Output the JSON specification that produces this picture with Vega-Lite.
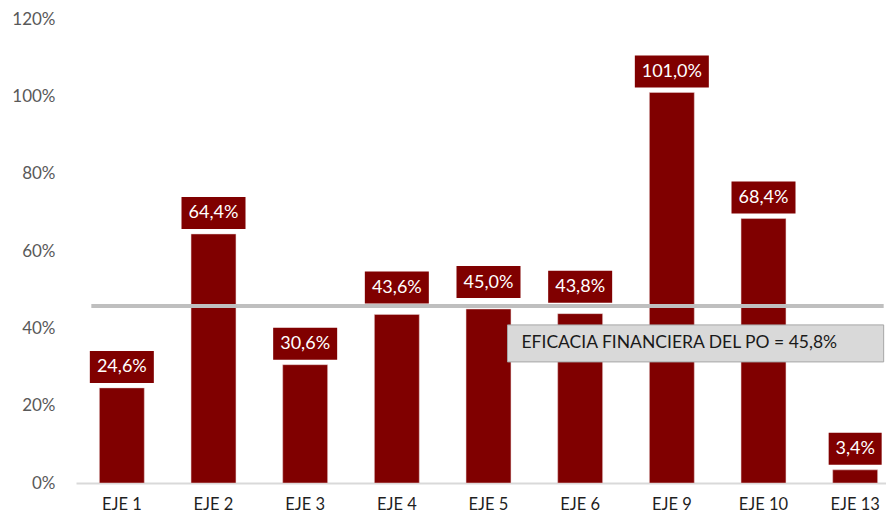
{
  "$schema": "https://vega.github.io/schema/vega-lite/v6.json",
  "autosize": "none",
  "width": 825,
  "height": 464,
  "padding": {"left": 76, "top": 19, "right": 0, "bottom": 37},
  "background": "white",
  "config": {"view": {"stroke": null}, "font": "Lato"},
  "datasets": {
    "ejes": [
      {"eje": "EJE 1", "v": 24.6},
      {"eje": "EJE 2", "v": 64.4},
      {"eje": "EJE 3", "v": 30.6},
      {"eje": "EJE 4", "v": 43.6},
      {"eje": "EJE 5", "v": 45.0},
      {"eje": "EJE 6", "v": 43.8},
      {"eje": "EJE 9", "v": 101.0},
      {"eje": "EJE 10", "v": 68.4},
      {"eje": "EJE 13", "v": 3.4}
    ],
    "ref": [{"eje1": "EJE 1", "eje13": "EJE 13", "eje5": "EJE 5", "eje9": "EJE 9", "ref": 45.8, "label": "EFICACIA FINANCIERA DEL PO = 45,8%"}]
  },
  "encoding": {
    "x": {
      "field": "eje", "type": "nominal", "sort": null,
      "scale": {"paddingInner": 0.51, "paddingOuter": 0.255},
      "axis": {"title": null, "labelAngle": 0, "ticks": false, "domainColor": "#d9d9d9", "domainWidth": 2, "labelFontSize": 16.5, "labelColor": "#1f1f1f", "labelPadding": 13, "labelFont": "Lato"}
    },
    "y": {
      "field": "v", "type": "quantitative",
      "scale": {"domain": [0, 120], "nice": false},
      "axis": {"title": null, "values": [0, 20, 40, 60, 80, 100, 120], "labelExpr": "datum.value + '%'", "grid": false, "domain": false, "ticks": false, "labelFontSize": 17, "labelColor": "#595959", "labelPadding": 21, "labelFont": "Lato"}
    }
  },
  "layer": [
    {
      "data": {"name": "ejes"},
      "mark": {"type": "bar", "color": "#800000", "stroke": "#e8d0d0", "strokeWidth": 0.5}
    },
    {
      "data": {"name": "ref"},
      "mark": {"type": "rule", "color": "#bfbfbf", "strokeWidth": 4, "xOffset": -30.5, "x2Offset": 28.5},
      "encoding": {
        "x": {"field": "eje1", "type": "nominal"},
        "x2": {"field": "eje13"},
        "y": {"field": "ref", "type": "quantitative"}
      }
    },
    {
      "data": {"name": "ejes"},
      "transform": [{"filter": "datum.v < 40 || datum.v > 50"}],
      "mark": {"type": "bar", "color": "#800000", "yOffset": -37, "y2Offset": -5},
      "encoding": {
        "y2": {"field": "v"},
        "size": {"condition": [{"test": "datum.v >= 100", "value": 74}, {"test": "datum.v < 10", "value": 53}], "value": 64}
      }
    },
    {
      "data": {"name": "ejes"},
      "transform": [{"filter": "datum.v >= 40 && datum.v <= 50"}],
      "mark": {"type": "bar", "color": "#800000", "yOffset": -43, "y2Offset": -11},
      "encoding": {
        "y2": {"field": "v"},
        "size": {"value": 64}
      }
    },
    {
      "data": {"name": "ejes"},
      "transform": [
        {"filter": "datum.v < 40 || datum.v > 50"},
        {"calculate": "replace(format(datum.v, '.1f'), '.', ',') + '%'", "as": "lab"}
      ],
      "mark": {"type": "text", "color": "white", "fontSize": 18, "baseline": "middle", "yOffset": -20.5, "font": "Lato"},
      "encoding": {"text": {"field": "lab"}}
    },
    {
      "data": {"name": "ejes"},
      "transform": [
        {"filter": "datum.v >= 40 && datum.v <= 50"},
        {"calculate": "replace(format(datum.v, '.1f'), '.', ',') + '%'", "as": "lab"}
      ],
      "mark": {"type": "text", "color": "white", "fontSize": 18, "baseline": "middle", "yOffset": -26.5, "font": "Lato"},
      "encoding": {"text": {"field": "lab"}}
    },
    {
      "data": {"name": "ref"},
      "mark": {"type": "rect", "fill": "#d9d9d9", "stroke": "#a6a6a6", "strokeWidth": 1, "xOffset": 19, "x2Offset": 28.5, "yOffset": 19, "y2Offset": 56},
      "encoding": {
        "x": {"field": "eje5", "type": "nominal"},
        "x2": {"field": "eje13"},
        "y": {"field": "ref", "type": "quantitative"},
        "y2": {"field": "ref"}
      }
    },
    {
      "data": {"name": "ref"},
      "mark": {"type": "text", "color": "#1a1a1a", "fontSize": 17.5, "baseline": "middle", "align": "left", "xOffset": 33, "yOffset": 37.5, "font": "Lato"},
      "encoding": {
        "x": {"field": "eje5", "type": "nominal"},
        "y": {"field": "ref", "type": "quantitative"},
        "text": {"field": "label"}
      }
    }
  ]
}
